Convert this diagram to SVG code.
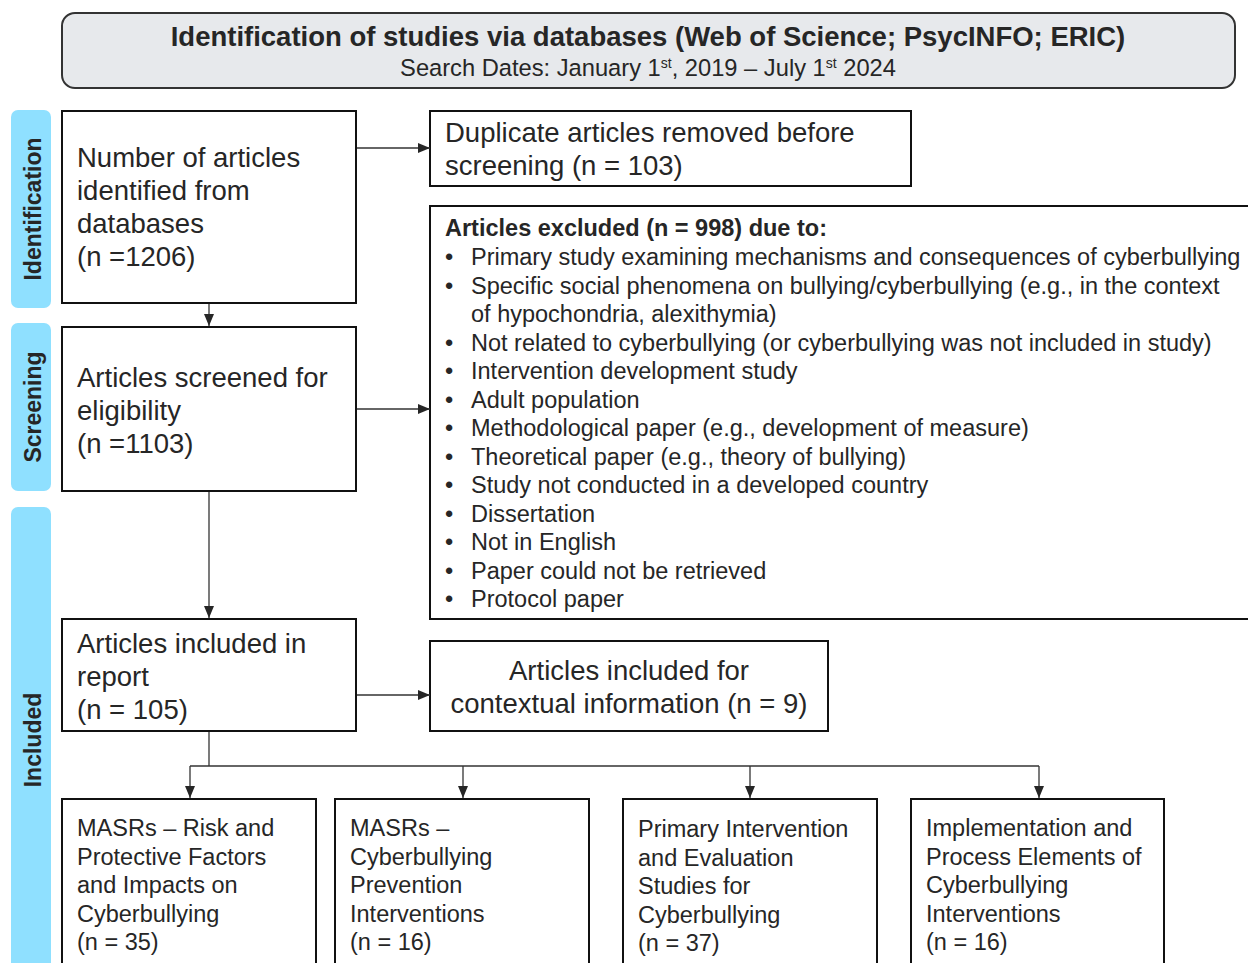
<svg xmlns="http://www.w3.org/2000/svg" width="1248" height="963" viewBox="0 0 1248 963">
<defs>
<marker id="ah" viewBox="0 0 12 10" refX="12" refY="5" markerWidth="12" markerHeight="10" markerUnits="userSpaceOnUse" orient="auto">
<path d="M0,0 L12,5 L0,10 z" fill="#262626"/>
</marker>
<style>
text{font-family:"Liberation Sans",Arial,sans-serif;fill:#262626}
.box{fill:#fff;stroke:#111;stroke-width:2}
.pill{fill:#8fe0ff}
.side{font-size:23px;font-weight:bold;text-anchor:middle}
.big{font-size:27.5px}
.mid{font-size:23.5px}
.conn{fill:none;stroke:#333;stroke-width:1.3}
.arr{fill:none;stroke:#333;stroke-width:1.3;marker-end:url(#ah)}
</style>
</defs>
<rect width="1248" height="963" fill="#fff"/>

<g id="header">
<rect x="62" y="13" width="1173" height="75" rx="13" fill="#e7e9ec" stroke="#333" stroke-width="2"/>
<text x="648" y="46" text-anchor="middle" style="font-size:27.5px;font-weight:bold">Identification of studies via databases (Web of Science; PsycINFO; ERIC)</text>
<text x="648" y="76" text-anchor="middle" style="font-size:23.7px">Search Dates: January 1<tspan dy="-8" style="font-size:14px">st</tspan><tspan dy="8">, 2019 – July 1</tspan><tspan dy="-8" style="font-size:14px">st</tspan><tspan dy="8"> 2024</tspan></text>
</g>

<g id="phase-identification">
<rect class="pill" x="11" y="110" width="40" height="198" rx="7"/>
<text class="side" transform="translate(41,209) rotate(-90)">Identification</text>
</g>
<g id="phase-screening">
<rect class="pill" x="11" y="323" width="40" height="168" rx="7"/>
<text class="side" transform="translate(41,407) rotate(-90)">Screening</text>
</g>
<g id="phase-included">
<rect class="pill" x="11" y="507" width="40" height="470" rx="7"/>
<text class="side" transform="translate(41,740) rotate(-90)">Included</text>
</g>

<g id="node-identified">
<rect class="box" x="62" y="111" width="294" height="192"/>
<text class="big" x="77" y="167">Number of articles</text>
<text class="big" x="77" y="200">identified from</text>
<text class="big" x="77" y="233">databases</text>
<text class="big" x="77" y="266">(n =1206)</text>
</g>

<g id="node-duplicates">
<rect class="box" x="430" y="111" width="481" height="75"/>
<text class="big" x="445" y="142">Duplicate articles removed before</text>
<text class="big" x="445" y="175">screening (n = 103)</text>
</g>

<g id="node-excluded">
<rect class="box" x="430" y="206" width="830" height="413"/>
<text class="mid" x="445" y="236" style="font-weight:bold">Articles excluded (n = 998) due to:</text>
<g class="mid">
<text x="445" y="265">•</text><text x="471" y="265">Primary study examining mechanisms and consequences of cyberbullying</text>
<text x="445" y="294">•</text><text x="471" y="294">Specific social phenomena on bullying/cyberbullying (e.g., in the context</text>
<text x="471" y="322">of hypochondria, alexithymia)</text>
<text x="445" y="351">•</text><text x="471" y="351">Not related to cyberbullying (or cyberbullying was not included in study)</text>
<text x="445" y="379">•</text><text x="471" y="379">Intervention development study</text>
<text x="445" y="408">•</text><text x="471" y="408">Adult population</text>
<text x="445" y="436">•</text><text x="471" y="436">Methodological paper (e.g., development of measure)</text>
<text x="445" y="465">•</text><text x="471" y="465">Theoretical paper (e.g., theory of bullying)</text>
<text x="445" y="493">•</text><text x="471" y="493">Study not conducted in a developed country</text>
<text x="445" y="522">•</text><text x="471" y="522">Dissertation</text>
<text x="445" y="550">•</text><text x="471" y="550">Not in English</text>
<text x="445" y="579">•</text><text x="471" y="579">Paper could not be retrieved</text>
<text x="445" y="607">•</text><text x="471" y="607">Protocol paper</text>
</g>
</g>

<g id="node-screened">
<rect class="box" x="62" y="327" width="294" height="164"/>
<text class="big" x="77" y="387">Articles screened for</text>
<text class="big" x="77" y="420">eligibility</text>
<text class="big" x="77" y="453">(n =1103)</text>
</g>

<g id="node-included">
<rect class="box" x="62" y="619" width="294" height="112"/>
<text class="big" x="77" y="653">Articles included in</text>
<text class="big" x="77" y="686">report</text>
<text class="big" x="77" y="719">(n = 105)</text>
</g>

<g id="node-contextual">
<rect class="box" x="430" y="641" width="398" height="90"/>
<text class="big" x="629" y="680" text-anchor="middle">Articles included for</text>
<text class="big" x="629" y="713" text-anchor="middle">contextual information (n = 9)</text>
</g>

<g id="node-masrs-risk">
<rect class="box" x="62" y="799" width="254" height="180"/>
<text class="mid" x="77" y="836">MASRs – Risk and</text>
<text class="mid" x="77" y="865">Protective Factors</text>
<text class="mid" x="77" y="893">and Impacts on</text>
<text class="mid" x="77" y="922">Cyberbullying</text>
<text class="mid" x="77" y="950">(n = 35)</text>
</g>

<g id="node-masrs-prevention">
<rect class="box" x="335" y="799" width="254" height="180"/>
<text class="mid" x="350" y="836">MASRs –</text>
<text class="mid" x="350" y="865">Cyberbullying</text>
<text class="mid" x="350" y="893">Prevention</text>
<text class="mid" x="350" y="922">Interventions</text>
<text class="mid" x="350" y="950">(n = 16)</text>
</g>

<g id="node-primary">
<rect class="box" x="623" y="799" width="254" height="180"/>
<text class="mid" x="638" y="837">Primary Intervention</text>
<text class="mid" x="638" y="866">and Evaluation</text>
<text class="mid" x="638" y="894">Studies for</text>
<text class="mid" x="638" y="923">Cyberbullying</text>
<text class="mid" x="638" y="951">(n = 37)</text>
</g>

<g id="node-implementation">
<rect class="box" x="911" y="799" width="253" height="180"/>
<text class="mid" x="926" y="836">Implementation and</text>
<text class="mid" x="926" y="865">Process Elements of</text>
<text class="mid" x="926" y="893">Cyberbullying</text>
<text class="mid" x="926" y="922">Interventions</text>
<text class="mid" x="926" y="950">(n = 16)</text>
</g>

<g id="connectors">
<line class="arr" x1="357" y1="148" x2="430" y2="148"/>
<line class="arr" x1="209" y1="304" x2="209" y2="326"/>
<line class="arr" x1="357" y1="409" x2="430" y2="409"/>
<line class="arr" x1="209" y1="492" x2="209" y2="618"/>
<line class="arr" x1="357" y1="695" x2="430" y2="695"/>
<line class="conn" x1="209" y1="732" x2="209" y2="766"/>
<line class="conn" x1="190" y1="766" x2="1039" y2="766"/>
<line class="arr" x1="190" y1="766" x2="190" y2="798"/>
<line class="arr" x1="463" y1="766" x2="463" y2="798"/>
<line class="arr" x1="750" y1="766" x2="750" y2="798"/>
<line class="arr" x1="1039" y1="766" x2="1039" y2="798"/>
</g>
</svg>
